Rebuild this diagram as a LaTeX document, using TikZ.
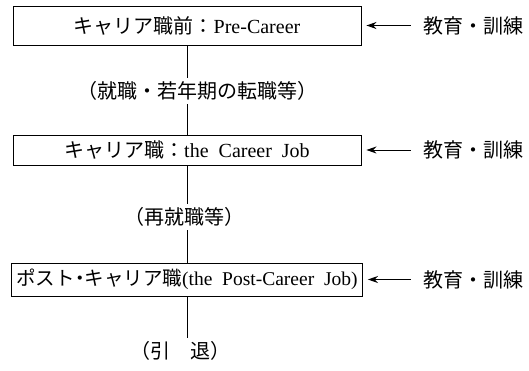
\documentclass[tikz,border=0pt]{standalone}
\usepackage{fontspec}
\setmainfont{Liberation Serif}
\newfontfamily\cjk{Noto Sans CJK JP}
\usetikzlibrary{arrows.meta}
\begin{document}
\begin{tikzpicture}[x=1pt,y=-1pt,
  stage/.style={draw,line width=0.9pt,minimum width=348pt,inner sep=0pt,font=\fontsize{20}{22}\selectfont},
  lab/.style={inner sep=0pt,minimum height=26pt,font=\fontsize{20}{22}\selectfont\cjk},
  edu/.style={inner sep=0pt,font=\fontsize{20}{22}\selectfont\cjk},
  link/.style={line width=0.9pt},
  feed/.style={line width=0.9pt,-{Stealth[length=10pt,width=7pt]},shorten >=5pt}]
\useasboundingbox (0,0) rectangle (529,370);
\node[stage,minimum height=39pt] (b1) at (187,25.5) {{\cjk キャリア職前：}Pre-Career};
\node[stage,minimum height=30pt] (b2) at (187,150) {{\cjk キャリア職：}the\ \ Career\ \ Job};
\node[stage,minimum height=33pt,minimum width=351pt,font=\fontsize{19.5}{22}\selectfont] (b3) at (187,279.5) {{\cjk ポスト}{\cjk\kern-0.25em・\kern-0.25em}{\cjk キャリア職}(the\ \ Post-Career\ \ Job)};
\node[lab] (l1) at (197,91) {（就職・若年期の転職等）};
\node[lab] (l2) at (184,217) {（再就職等）};
\node[lab] (l3) at (180,351) {（引　退）};
\node[edu] (e1) at (473,25.5) {教育・訓練};
\node[edu] (e2) at (473,150) {教育・訓練};
\node[edu] (e3) at (473,279.5) {教育・訓練};
\draw[link] (b1.south) -- (b1.south |- l1.north);
\draw[link] (b1.south |- l1.south) -- (b2.north);
\draw[link] (b2.south) -- (b2.south |- l2.north);
\draw[link] (b2.south |- l2.south) -- (b3.north);
\draw[link] (b3.south) -- (b3.south |- l3.north);
\draw[feed] ([xshift=-12pt]e1.west) -- (b1.east);
\draw[feed] ([xshift=-12pt]e2.west) -- (b2.east);
\draw[feed] ([xshift=-12pt]e3.west) -- (b3.east);
\end{tikzpicture}
\end{document}
